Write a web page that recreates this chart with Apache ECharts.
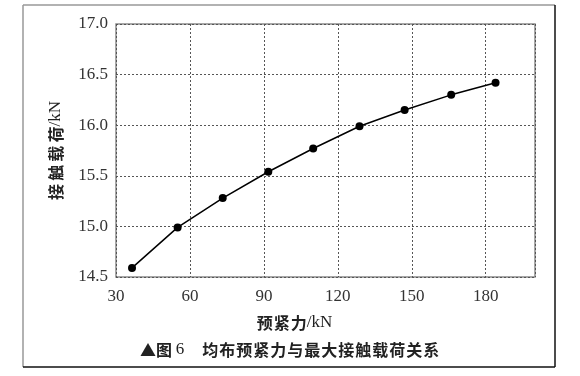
<!DOCTYPE html>
<html>
<head>
<meta charset="utf-8">
<script src="https://cdn.jsdelivr.net/npm/echarts@6/dist/echarts.min.js"></script>
<style>
  html, body { margin: 0; padding: 0; background: #fff; }
  #chart { width: 580px; height: 376px; }
</style>
</head>
<body>
<div id="chart"></div>
<script>
// 预紧力 (kN) 与最大接触载荷 (kN)
var preload = [36.5, 55, 73.3, 91.8, 110, 128.8, 147.1, 166, 184];
var contactLoad = [14.59, 14.99, 15.28, 15.54, 15.77, 15.99, 16.15, 16.30, 16.42];
var xTicks = [30, 60, 90, 120, 150, 180];
var yTicks = [14.5, 15.0, 15.5, 16.0, 16.5, 17.0];

var serif = '"Liberation Serif", "DejaVu Serif", serif';
var cjk = '"Noto Sans CJK SC", sans-serif';

// 汉字之间加细空格，模拟排版字距
function spaced(s, sp) {
  return s.split('').join(sp || '\u2009');
}

var points = preload.map(function (x, i) { return [x, contactLoad[i]]; });

var splitStyle = {
  show: true,
  lineStyle: { color: '#555', width: 1, type: [2, 2] }
};

var nameRich = {
  a: { fontFamily: cjk, fontWeight: 'bold', fontSize: 16, color: '#222' },
  b: { fontFamily: serif, fontSize: 17, color: '#222' }
};

var option = {
  animation: false,
  grid: {
    left: 116,
    right: 45,
    top: 24,
    bottom: 99,
    show: true,
    borderColor: '#8a8a8a',
    borderWidth: 1.5
  },
  xAxis: {
    type: 'value',
    min: xTicks[0],
    max: 200,
    interval: 30,
    axisLine: { show: false },
    axisTick: { show: false },
    splitLine: splitStyle,
    axisLabel: {
      showMaxLabel: false,
      margin: 11,
      color: '#333',
      fontFamily: serif,
      fontSize: 17
    },
    name: '{a|' + spaced('预紧力', '\u200a') + '}{b|/kN}',
    nameLocation: 'middle',
    nameGap: 37,
    nameTextStyle: { rich: nameRich, padding: [0, 62, 0, 0] }
  },
  yAxis: {
    type: 'value',
    min: yTicks[0],
    max: yTicks[yTicks.length - 1],
    interval: 0.5,
    axisLine: { show: false },
    axisTick: { show: false },
    splitLine: splitStyle,
    axisLabel: {
      margin: 8,
      color: '#333',
      fontFamily: serif,
      fontSize: 17,
      formatter: function (v) { return v.toFixed(1); }
    },
    name: '{a|' + spaced('接触载荷') + '}{b|/kN}',
    nameLocation: 'middle',
    nameGap: 52,
    nameTextStyle: { rich: nameRich }
  },
  series: [
    {
      type: 'line',
      data: points,
      symbol: 'circle',
      symbolSize: 8,
      itemStyle: { color: '#000' },
      lineStyle: { color: '#000', width: 1.5 }
    }
  ],
  graphic: [
    // 外框：左上灰，右下黑
    { type: 'line', shape: { x1: 23, y1: 5, x2: 555, y2: 5 }, style: { stroke: '#999', lineWidth: 1.5 } },
    { type: 'line', shape: { x1: 23, y1: 5, x2: 23, y2: 367 }, style: { stroke: '#999', lineWidth: 1.5 } },
    { type: 'line', shape: { x1: 555, y1: 5, x2: 555, y2: 367 }, style: { stroke: '#111', lineWidth: 1.5 } },
    { type: 'line', shape: { x1: 23, y1: 367, x2: 555, y2: 367 }, style: { stroke: '#111', lineWidth: 1.5 } },
    {
      type: 'text',
      left: 140,
      top: 341,
      style: {
        text: '{a|▲' + spaced('图') + ' }{b|6}{a|     ' + spaced('均布预紧力与最大接触载荷关系', '\u200a') + '}',
        rich: {
          a: { fontFamily: cjk, fontWeight: 'bold', fontSize: 16, fill: '#222' },
          b: { fontFamily: serif, fontSize: 17, fill: '#222' }
        }
      }
    }
  ]
};

var myChart = echarts.init(document.getElementById('chart'));
myChart.setOption(option);
</script>
</body>
</html>
